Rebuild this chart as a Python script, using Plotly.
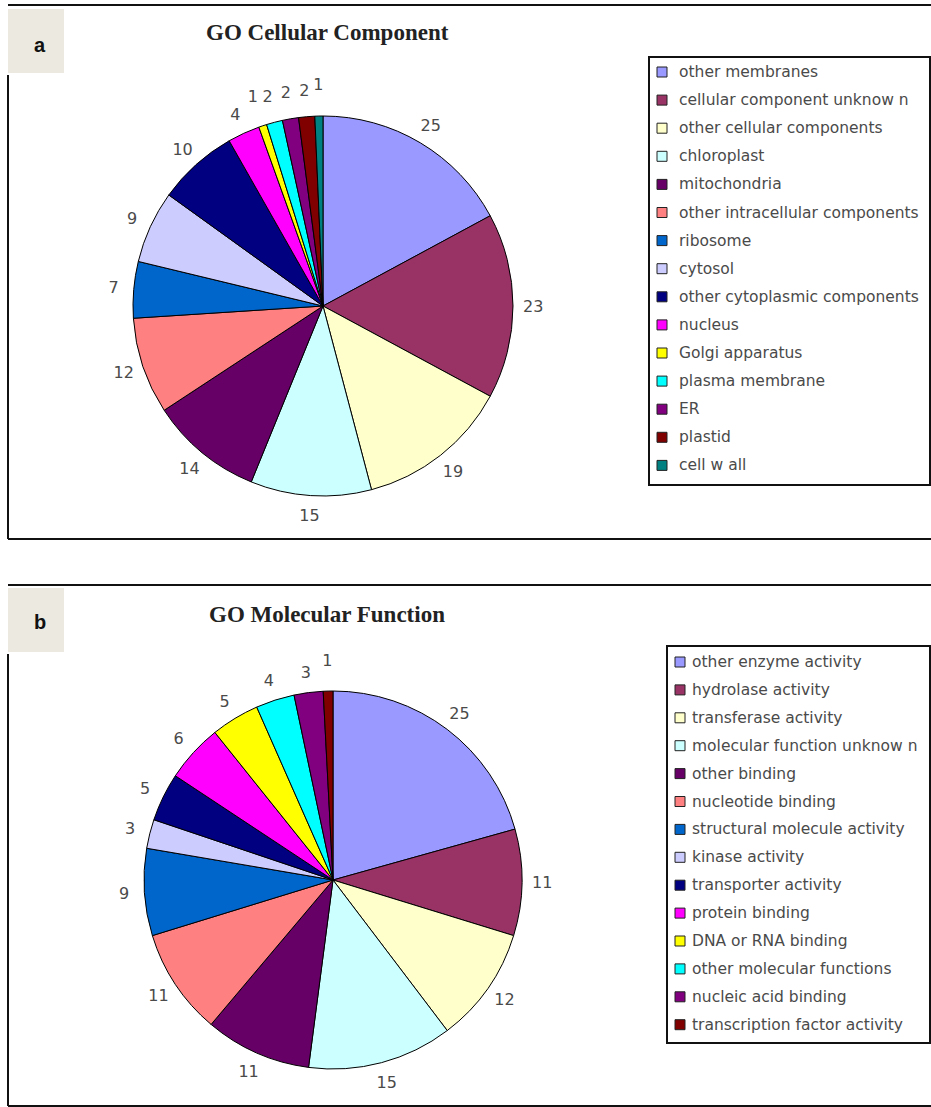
import plotly.graph_objects as go

W, H = 931, 1107

# ---- data ----
cc_labels = ["other membranes", "cellular component unknow n", "other cellular components",
             "chloroplast", "mitochondria", "other intracellular components", "ribosome",
             "cytosol", "other cytoplasmic components", "nucleus", "Golgi apparatus",
             "plasma membrane", "ER", "plastid", "cell w all"]
cc_values = [25, 23, 19, 15, 14, 12, 7, 9, 10, 4, 1, 2, 2, 2, 1]

mf_labels = ["other enzyme activity", "hydrolase activity", "transferase activity",
             "molecular function unknow n", "other binding", "nucleotide binding",
             "structural molecule activity", "kinase activity", "transporter activity",
             "protein binding", "DNA or RNA binding", "other molecular functions",
             "nucleic acid binding", "transcription factor activity"]
mf_values = [25, 11, 12, 15, 11, 11, 9, 3, 5, 6, 5, 4, 3, 1]

palette = ["#9999FF", "#993366", "#FFFFCC", "#CCFFFF", "#660066", "#FF8080", "#0066CC",
           "#CCCCFF", "#000080", "#FF00FF", "#FFFF00", "#00FFFF", "#800080", "#800000",
           "#008080"]

titles = ["GO Cellular Component", "GO Molecular Function"]
panel_tags = ["a", "b"]


def X(px):
    return px / W


def Y(py):
    return 1 - py / H


fig = go.Figure()

LABEL_SIZE = 16
LABEL_FONT = dict(family="DejaVu Sans", size=LABEL_SIZE, color="#4a4a4a")


def dom(cx, cy, r):
    return dict(x=[X(cx - r), X(cx + r)], y=[Y(cy + r), Y(cy - r)])


def add_pie(labels, values, cx, cy, r, r_lab):
    # the pie itself
    fig.add_trace(go.Pie(
        labels=labels, values=values, sort=False, direction="clockwise", rotation=0,
        marker=dict(colors=palette[:len(values)], line=dict(color="#000000", width=1)),
        textinfo="none", domain=dom(cx, cy, r),
        showlegend=False, hoverinfo="label+value",
    ))
    # transparent outer ring that carries the value labels around the rim
    fig.add_trace(go.Pie(
        labels=labels, values=values, sort=False, direction="clockwise", rotation=0,
        hole=0.86,
        marker=dict(colors=["rgba(0,0,0,0)"] * len(values), line=dict(width=0)),
        textinfo="value", textposition="inside", insidetextorientation="horizontal",
        insidetextfont=LABEL_FONT, domain=dom(cx, cy, r_lab),
        showlegend=False, hoverinfo="skip",
    ))


add_pie(cc_labels, cc_values, 323, 306, 190, 226)
add_pie(mf_labels, mf_values, 333, 880, 189, 225)

shapes = []
annotations = []


def line(x0, y0, x1, y1, w=2):
    shapes.append(dict(type="line", xref="paper", yref="paper",
                       x0=X(x0), y0=Y(y0), x1=X(x1), y1=Y(y1),
                       line=dict(color="#111111", width=w)))


def rect(x0, y0, x1, y1, fill, lc="#111111", lw=1.5):
    shapes.append(dict(type="rect", xref="paper", yref="paper",
                       x0=X(x0), y0=Y(y0), x1=X(x1), y1=Y(y1),
                       fillcolor=fill, line=dict(color=lc, width=lw)))


def text(x, y, s, font, xanchor="center"):
    annotations.append(dict(xref="paper", yref="paper", x=X(x), y=Y(y), text=s,
                            showarrow=False, xanchor=xanchor, yanchor="middle", font=font))


# panel frames
panels = [dict(top=5, bottom=539, tagy0=9, tagy1=73, tagtext=45, titley=32),
          dict(top=585, bottom=1106, tagy0=588, tagy1=652, tagtext=622, titley=614)]
for p, t, tag in zip(panels, titles, panel_tags):
    line(8, p["top"], 931, p["top"])
    line(8, p["tagy1"] + 2, 8, p["bottom"])
    line(8, p["bottom"], 931, p["bottom"])
    rect(8, p["tagy0"], 64, p["tagy1"], "#ECEAE0", lc="rgba(0,0,0,0)", lw=0)
    text(40, p["tagtext"], "<b>%s</b>" % tag,
         dict(family="Liberation Sans", size=20, color="#111111"))
    text(327, p["titley"], "<b>%s</b>" % t,
         dict(family="Liberation Serif", size=23, color="#222222"))

# legends
legends = [dict(labels=cc_labels, box=(649, 57, 930, 485), sw=657, tx=677, y0=72, dy=28.1),
           dict(labels=mf_labels, box=(667, 646, 930, 1043), sw=675, tx=690, y0=662, dy=27.9)]
for lg in legends:
    bx0, by0, bx1, by1 = lg["box"]
    rect(bx0, by0, bx1, by1, "rgba(255,255,255,0)", lc="#111111", lw=2)
    for i, lab in enumerate(lg["labels"]):
        yc = lg["y0"] + i * lg["dy"]
        rect(lg["sw"], yc - 5, lg["sw"] + 10, yc + 5, palette[i], lc="#222222", lw=1)
        text(lg["tx"], yc, lab, dict(family="DejaVu Sans", size=15.5, color="#4a4a4a"),
             xanchor="left")

fig.update_layout(
    width=W, height=H, margin=dict(l=0, r=0, t=0, b=0),
    paper_bgcolor="white", plot_bgcolor="white",
    uniformtext=dict(minsize=LABEL_SIZE, mode="show"),
    shapes=shapes, annotations=annotations,
)

fig.write_html("out.html")
